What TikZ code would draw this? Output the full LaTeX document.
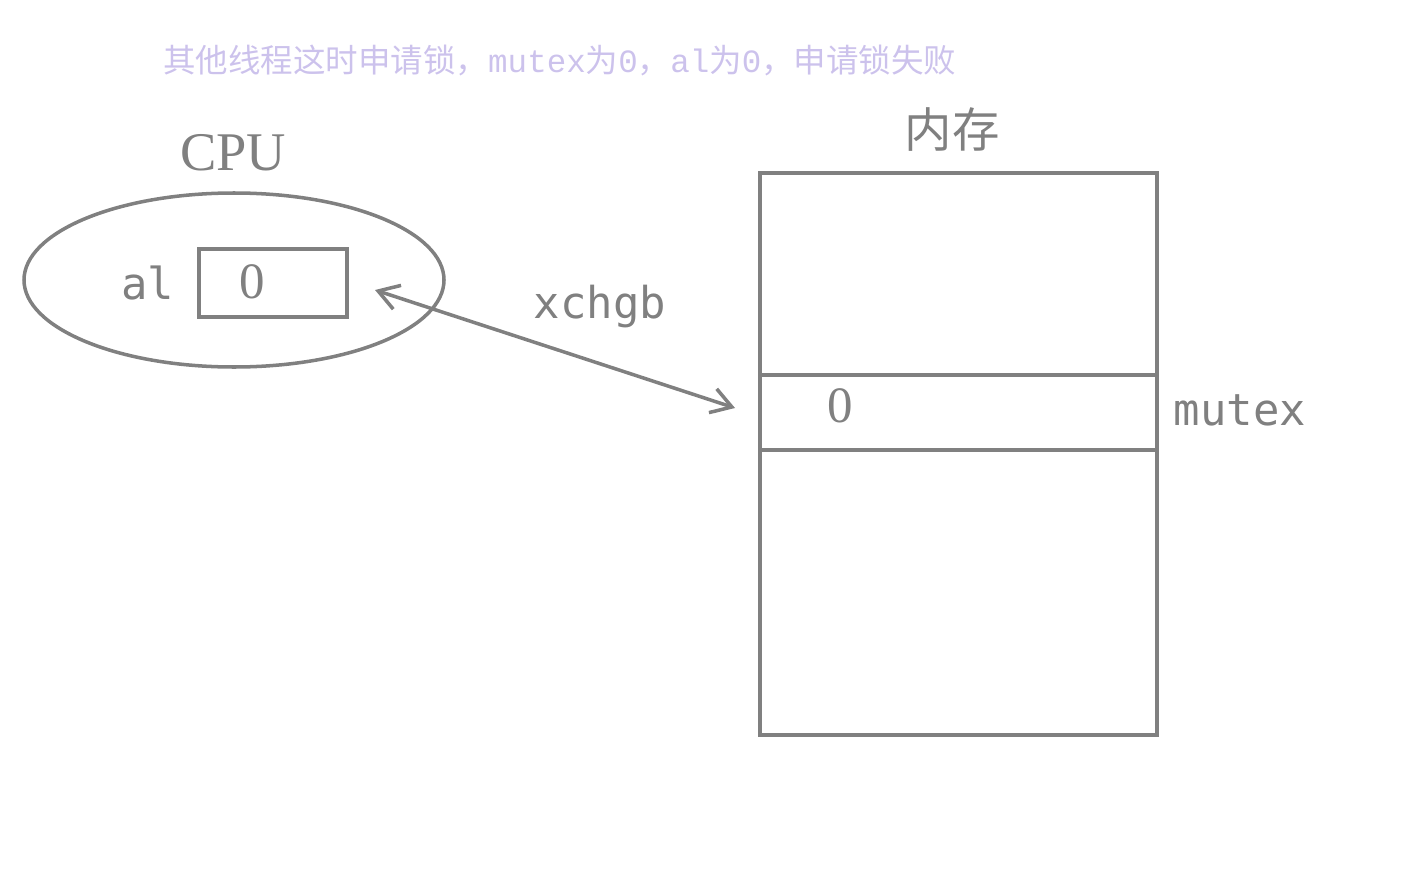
\documentclass[tikz,border=0pt]{standalone}
\usepackage{fontspec}
\setmainfont{Liberation Serif}
\setmonofont{DejaVu Sans Mono}
\newfontfamily\cjk{Noto Sans CJK SC}
\newfontfamily\titlemono{Liberation Mono}
\usetikzlibrary{arrows.meta}

\definecolor{linegray}{RGB}{128,128,128}
\definecolor{notepurple}{RGB}{204,194,236}

\tikzset{
  frame/.style={draw=linegray, line width=2pt},
  regtext/.style={text=linegray, font=\ttfamily\fontsize{25}{30}\selectfont},
  valtext/.style={text=linegray, font=\fontsize{29}{34}\selectfont},
}

\begin{document}
\begin{tikzpicture}[x=0.02cm,y=-0.02cm]
  \useasboundingbox (0,0) rectangle (1409,875);

  % note at the top
  \node[text=notepurple, font=\cjk\fontsize{18.5}{22}\selectfont, anchor=west] (note) at (157,60)
    {其他线程这时申请锁，{\titlemono mutex}为{\titlemono 0}，{\titlemono al}为{\titlemono 0}，申请锁失败};

  % cpu side
  \node[text=linegray, font=\fontsize{31}{36}\selectfont] (cpu) at (233,153) {CPU};
  \draw[frame] (234,280) ellipse (210 and 87);
  \node[regtext] (al) at (148,283) {al};
  \node[frame, minimum width=148*0.02cm, minimum height=68*0.02cm] (reg) at (273,283) {};
  \node[valtext] (regval) at (252,282) {0};

  % memory side
  \node[text=linegray, font=\cjk\fontsize{27}{32}\selectfont] (mem) at (952,130) {内存};
  \draw[frame] (760,173) rectangle (1157,735);
  \draw[frame] (760,375) -- (1157,375);
  \draw[frame] (760,450) -- (1157,450);
  \node[valtext] (memval) at (840,406) {0};
  \node[regtext] (mutex) at (1240,410) {mutex};

  % exchange
  \coordinate (from) at (375,290);
  \coordinate (to) at (735,408);
  \draw[draw=linegray, line width=2pt,
        {Straight Barb[length=4mm,width=5mm]}-{Straight Barb[length=4mm,width=5mm]}] (from) -- (to);
  \node[regtext] (xchg) at (600,307) {xchgb};
\end{tikzpicture}
\end{document}
